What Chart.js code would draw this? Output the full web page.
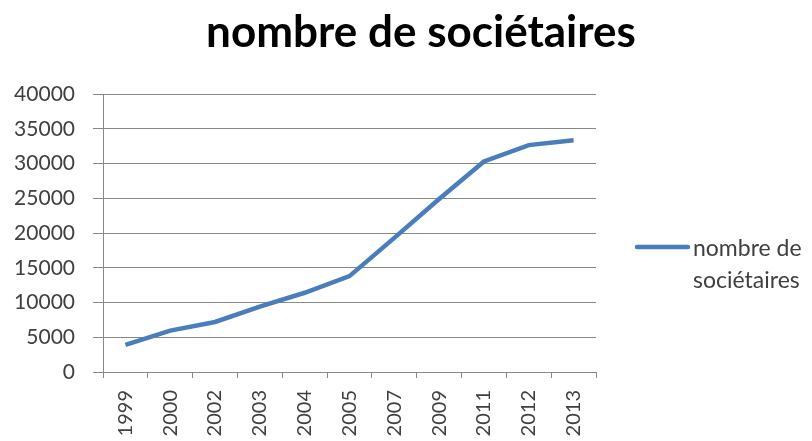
<!DOCTYPE html>
<html>
<head>
<meta charset="utf-8">
<script src="https://cdn.jsdelivr.net/npm/chart.js@4"></script>
<style>
  html, body { margin: 0; padding: 0; background: #fff; }
  #wrap { width: 812px; height: 441px; }
</style>
</head>
<body>
<div id="wrap"><canvas id="chart" width="812" height="441"></canvas></div>
<script>
/* data */
var years = ['1999', '2000', '2002', '2003', '2004', '2005', '2007', '2009', '2011', '2012', '2013'];
var societaires = [3900, 5950, 7200, 9400, 11400, 13800, 19300, 24900, 30300, 32650, 33350];
var yTicks = [0, 5000, 10000, 15000, 20000, 25000, 30000, 35000, 40000];

var titleText = 'nombre de sociétaires';
var legendLines = ['nombre de', 'sociétaires'];
var blue = '#4a7ebb';
var fontFam = 'Lato, "Open Sans", sans-serif';

// title + two-line legend drawn on the canvas
var extras = {
  id: 'extras',
  afterDraw: function(chart) {
    var ctx = chart.ctx;
    ctx.save();
    ctx.fillStyle = '#000';
    ctx.font = 'bold 44px ' + fontFam;
    ctx.textAlign = 'center';
    ctx.textBaseline = 'alphabetic';
    ctx.fillText(titleText, 421, 47);

    ctx.strokeStyle = blue;
    ctx.lineWidth = 4.5;
    ctx.lineCap = 'round';
    ctx.beginPath();
    ctx.moveTo(637, 247);
    ctx.lineTo(688, 247);
    ctx.stroke();

    ctx.fillStyle = '#404040';
    ctx.font = '23px ' + fontFam;
    ctx.textAlign = 'left';
    ctx.fillText(legendLines[0], 693, 256);
    ctx.fillText(legendLines[1], 693, 288);
    ctx.restore();
  }
};

var chart = new Chart(document.getElementById('chart'), {
  type: 'line',
  data: {
    labels: years,
    datasets: [{
      label: titleText,
      data: societaires,
      borderColor: blue,
      borderWidth: 4.5,
      pointRadius: 0,
      tension: 0,
      fill: false
    }]
  },
  options: {
    responsive: false,
    animation: false,
    layout: { padding: { top: 94, right: 216, left: 0, bottom: 0 } },
    plugins: {
      legend: { display: false },
      title: { display: false },
      tooltip: { enabled: false }
    },
    scales: {
      x: {
        offset: true,
        grid: {
          offset: true,
          drawOnChartArea: false,
          drawTicks: true,
          tickLength: 6,
          color: '#888'
        },
        border: { color: '#888', width: 1 },
        ticks: {
          minRotation: 90,
          maxRotation: 90,
          color: '#404040',
          font: { family: fontFam, size: 20 },
          padding: 12
        },
        afterFit: function(scale) { scale.height = 69; }
      },
      y: {
        min: 0,
        max: 40000,
        afterBuildTicks: function(scale) {
          scale.ticks = yTicks.map(function(v) { return { value: v }; });
        },
        grid: {
          color: '#888',
          tickLength: 10,
          drawTicks: true
        },
        border: { color: '#888', width: 1 },
        ticks: {
          color: '#404040',
          font: { family: fontFam, size: 21 },
          padding: 18,
          callback: function(v) { return String(v); }
        },
        afterFit: function(scale) { scale.width = 103; }
      }
    }
  },
  plugins: [extras]
});
</script>
</body>
</html>
